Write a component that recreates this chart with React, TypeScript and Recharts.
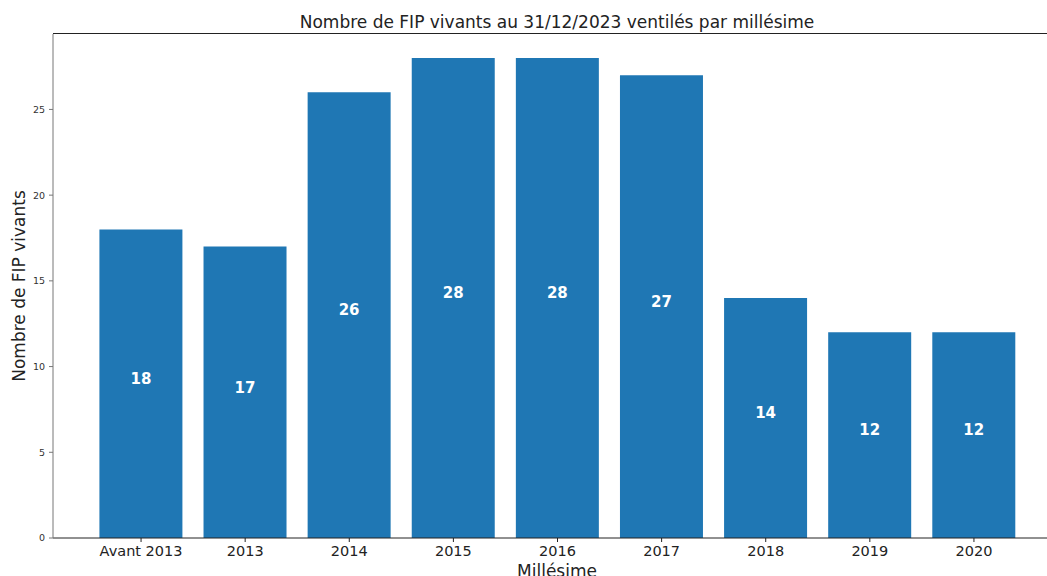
import React from 'react';
import { BarChart, Bar, XAxis, YAxis, LabelList } from 'recharts';

const CATEGORIES = ['Avant 2013', '2013', '2014', '2015', '2016', '2017', '2018', '2019', '2020'];
const FIP_COUNTS = [18, 17, 26, 28, 28, 27, 14, 12, 12];
const Y_TICKS = [0, 5, 10, 15, 20, 25];
const Y_MAX = 29.4;

const data = CATEGORIES.map((name, i) => ({ name, value: FIP_COUNTS[i] }));

const FONT = '"DejaVu Sans", sans-serif';

const App: React.FC = () => {
  return (
    <div
      style={{
        position: 'absolute',
        left: 0,
        top: 0,
        width: 1047,
        height: 576,
        overflow: 'hidden',
        background: '#fff',
        fontFamily: FONT,
      }}
    >
      {/* title */}
      <div
        style={{
          position: 'absolute',
          left: 57,
          width: 1000,
          top: 12,
          textAlign: 'center',
          fontSize: 17,
          color: '#222',
          lineHeight: '20px',
        }}
      >
        Nombre de FIP vivants au 31/12/2023 ventilés par millésime
      </div>
      {/* top spine */}
      <div style={{ position: 'absolute', left: 53, top: 33, width: 994, height: 1, background: '#222' }} />
      <BarChart
        width={1047}
        height={576}
        data={data}
        margin={{ top: 34, right: 0, bottom: 0, left: 0 }}
        barCategoryGap="10%"
      >
        <XAxis
          dataKey="name"
          height={38}
          padding={{ left: 36, right: 21 }}
          stroke="#222"
          tickSize={4}
          tickMargin={4}
          tick={{ fill: '#222', fontSize: 14.5, fontFamily: FONT }}
          interval={0}
          label={{
            content: () => (
              <text x={557} y={577} textAnchor="middle" fontSize={17} fill="#222" fontFamily={FONT}>
                Millésime
              </text>
            ),
          }}
        />
        <YAxis
          width={53}
          domain={[0, Y_MAX]}
          ticks={Y_TICKS}
          stroke="#777"
          tickSize={4}
          tickMargin={4}
          tick={{ fill: '#333', fontSize: 9.5, fontFamily: FONT }}
          label={{
            content: () => (
              <text
                x={19}
                y={286}
                transform="rotate(-90, 19, 286)"
                textAnchor="middle"
                dominantBaseline="central"
                fontSize={17}
                fill="#222"
                fontFamily={FONT}
              >
                Nombre de FIP vivants
              </text>
            ),
          }}
        />
        <Bar dataKey="value" fill="#1f77b4" isAnimationActive={false}>
          <LabelList
            dataKey="value"
            position="center"
            fill="#fff"
            fontSize={15}
            fontWeight="bold"
            fontFamily={FONT}
            dy={-5}
          />
        </Bar>
      </BarChart>
    </div>
  );
};

export default App;
